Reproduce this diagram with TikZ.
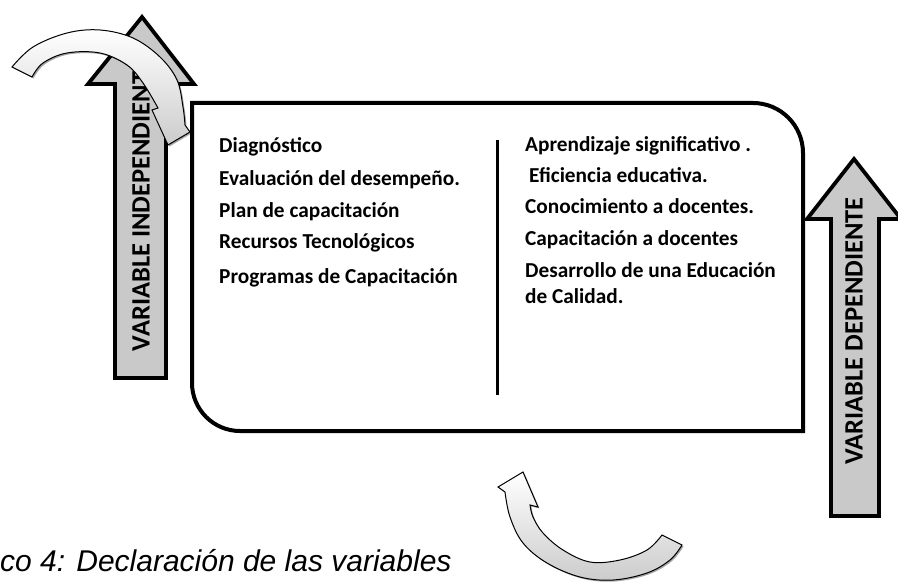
\documentclass[tikz,border=0pt]{standalone}
\usepackage{fontspec}
\setmainfont{Carlito}
\newfontfamily\capfont{Liberation Sans}
\usetikzlibrary{shadows}
\tikzset{
  boxline/.style={line width=4bp, line join=miter},
  straightarrow/.style={draw=black, line width=3.8bp, line join=miter, fill=black!21},
  curvedarrow/.style={draw=black, line width=1bp, line join=miter, top color=white, bottom color=black!20,
     drop shadow={shadow xshift=1.5bp, shadow yshift=-1.5bp, fill=black, opacity=0.35}},
  itemtext/.style={anchor=base west, inner sep=0pt, font=\bfseries\fontsize{21.3bp}{25bp}\selectfont},
  vartext/.style={rotate=90, inner sep=0pt, font=\bfseries\fontsize{26.5bp}{30bp}\selectfont},
}
\begin{document}
\begin{tikzpicture}[x=1bp,y=-1bp]
\useasboundingbox (0,0) rectangle (898,585);
% straight arrows
\path[straightarrow] (115,378) -- (115,84) -- (88,84) -- (142,17) -- (194,84) -- (166,84) -- (166,378) -- cycle;
\path[straightarrow] (831,516) -- (831,219) -- (807,219) -- (854,159) -- (901,219) -- (879,219) -- (879,516) -- cycle;
\node[vartext] (vi) at (141,205) {VARIABLE INDEPENDIENTE};
\node[vartext] (vd) at (854,331) {VARIABLE DEPENDIENTE};
% main box
\draw[boxline] (192,103) -- (753,103) .. controls (780.6,103) and (803,125.4) .. (803,153)
  -- (803,431) -- (240,431) .. controls (213.5,431) and (192,409.5) .. (192,383) -- cycle;
\draw[line width=3bp] (497,140) -- (497,395);
% left column
\node[itemtext] (l1) at (219,153) {Diagnóstico};
\node[itemtext] (l2) at (219,186) {Evaluación del desempeño.};
\node[itemtext] (l3) at (219,218) {Plan de capacitación};
\node[itemtext] (l4) at (219,249) {Recursos Tecnológicos};
\node[itemtext] (l5) at (219,283) {Programas de Capacitación};
% right column
\node[itemtext] (r1) at (525,152) {Aprendizaje significativo .};
\node[itemtext] (r2) at (529,183) {Eficiencia educativa.};
\node[itemtext] (r3) at (525,214) {Conocimiento a docentes.};
\node[itemtext] (r4) at (525,246) {Capacitación a docentes};
\node[itemtext] (r5) at (525,277) {Desarrollo de una Educación};
\node[itemtext] (r6) at (525,303) {de Calidad.};
% curved arrows
\path[curvedarrow] plot[smooth, tension=0.6] coordinates {(12,67) (33,47) (67,33) (100,30) (133,38) (160,57) (177,80) (183,107) (185,125)}
  -- (190,132) -- (168,145) -- (152,110)
  -- plot[smooth, tension=0.6] coordinates {(158,108) (143,83) (127,65) (100,53) (67,53) (43,63) (32,77)} -- cycle;
\path[curvedarrow] plot[smooth, tension=0.6] coordinates {(682,545) (670,560) (647,573) (613,580) (580,577) (547,563) (523,543) (510,517) (505,492)}
  -- (498,487) -- (523,472) -- (538,507)
  -- plot[smooth, tension=0.6] coordinates {(530,505) (533,517) (543,533) (563,550) (590,562) (620,560) (647,550) (662,535)} -- cycle;
% caption
\node[anchor=base west, inner sep=0pt, font=\capfont\itshape\fontsize{30bp}{34bp}\selectfont] (cap) at (0,571) {co 4: Declaración de las variables};
\end{tikzpicture}
\end{document}
